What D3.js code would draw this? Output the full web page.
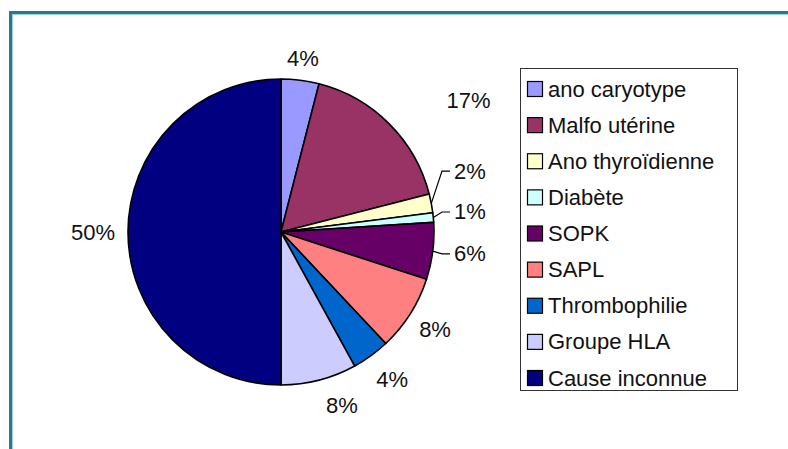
<!DOCTYPE html>
<html>
<head>
<meta charset="utf-8">
<script src="https://cdn.jsdelivr.net/npm/d3@7/dist/d3.min.js"></script>
<style>
  html, body { margin: 0; padding: 0; background: #ffffff; }
  svg { display: block; }
  text { font-family: "Liberation Sans", Arial, sans-serif; fill: #111111; }
</style>
</head>
<body>
<svg id="chart" width="788" height="449"></svg>
<script>
// ---- data ----
const categories = ["ano caryotype", "Malfo utérine", "Ano thyroïdienne", "Diabète", "SOPK", "SAPL", "Thrombophilie", "Groupe HLA", "Cause inconnue"];
const values = [4, 17, 2, 1, 6, 8, 4, 8, 50];
const labels = ["4%", "17%", "2%", "1%", "6%", "8%", "4%", "8%", "50%"];
const colors = ["#9999FF", "#993366", "#FFFFCC", "#CCFFFF", "#660066", "#FF8080", "#0066CC", "#CCCCFF", "#000080"];

// ---- layout ----
const W = 788, H = 449;
const cx = 281, cy = 232, R = 153;
const fontSize = 22;
// labels moved by hand in the original (polar: degrees clockwise from top, radius)
const movedLabels = {
  "Malfo utérine": { a: 55, r: 229, anchor: "middle" },
  "Ano thyroïdienne": { a: 70.6, r: 183.4, anchor: "start", leader: true },
  "Diabète": { a: 83.4, r: 174.2, anchor: "start", leader: true },
  "SOPK": { a: 97.2, r: 174.4, anchor: "start", leader: true },
  "Thrombophilie": { a: 143.1, r: 185, anchor: "middle" },
  "Groupe HLA": { a: 160.7, r: 184, anchor: "middle" }
};

const svg = d3.select("#chart");

// frame
svg.append("rect").attr("x", 0).attr("y", 0).attr("width", W).attr("height", H).attr("fill", "#ffffff");
svg.append("rect").attr("x", 10.5).attr("y", 12.5).attr("width", W + 20).attr("height", H + 20)
  .attr("fill", "none").attr("stroke", "#2B788A").attr("stroke-width", 3);
svg.append("rect").attr("x", 12.5).attr("y", 14.5).attr("width", W + 20).attr("height", H + 20)
  .attr("fill", "none").attr("stroke", "#9FD0DC").attr("stroke-width", 1);

const rows = categories.map((c, i) => ({ cat: c, value: values[i], label: labels[i], color: colors[i] }));

const pie = d3.pie().value(d => d.value).sort(null);
const arcs = pie(rows);
const arc = d3.arc().innerRadius(0).outerRadius(R);

const g = svg.append("g").attr("transform", `translate(${cx},${cy})`);
g.selectAll("path.slice").data(arcs).enter().append("path")
  .attr("class", "slice")
  .attr("d", arc)
  .attr("fill", d => d.data.color)
  .attr("stroke", "#000000")
  .attr("stroke-width", 1.6)
  .attr("stroke-linejoin", "round");

// labels
const gap = 13;
const lblG = g.append("g");
arcs.forEach(d => {
  const mid = (d.startAngle + d.endAngle) / 2;
  const t = lblG.append("text")
    .attr("font-size", fontSize)
    .attr("dominant-baseline", "central")
    .text(d.data.label);
  const bb = t.node().getBBox();
  const w = bb.width, h = fontSize * 0.8;
  const mv = movedLabels[d.data.cat];
  let x, y, anchor = "middle";
  if (mv) {
    const a = mv.a * Math.PI / 180;
    x = Math.sin(a) * mv.r; y = -Math.cos(a) * mv.r; anchor = mv.anchor;
    if (mv.leader) {
      const ex = Math.sin(mid) * R, ey = -Math.cos(mid) * R;
      lblG.append("path")
        .attr("d", d3.line()([[ex, ey], [x - 12, y], [x - 4, y]]))
        .attr("fill", "none").attr("stroke", "#000").attr("stroke-width", 1.2);
    }
  } else {
    const s = Math.abs(Math.sin(mid)), c = Math.abs(Math.cos(mid));
    const half = Math.min(s > 1e-6 ? (w / 2) / s : Infinity, c > 1e-6 ? (h / 2) / c : Infinity);
    const rr = R + gap + half;
    x = Math.sin(mid) * rr; y = -Math.cos(mid) * rr;
  }
  t.attr("x", x).attr("y", y).attr("text-anchor", anchor);
});

// legend
const lx = 520.5, ly = 68.5, lw = 217, lh = 322;
const legend = svg.append("g");
legend.append("rect").attr("x", lx).attr("y", ly).attr("width", lw).attr("height", lh)
  .attr("fill", "#ffffff").attr("stroke", "#333333").attr("stroke-width", 1);
const yLeg = d3.scalePoint().domain(categories).range([89, 378]);
const items = legend.selectAll("g.item").data(rows).enter().append("g").attr("class", "item")
  .attr("transform", d => `translate(0,${yLeg(d.cat)})`);
items.append("rect").attr("x", 527.5).attr("y", -7.5).attr("width", 15).attr("height", 15)
  .attr("fill", d => d.color).attr("stroke", "#000").attr("stroke-width", 1.2);
items.append("text").attr("x", 548).attr("y", 0).attr("dominant-baseline", "central")
  .attr("font-size", fontSize).text(d => d.cat);
</script>
</body>
</html>
